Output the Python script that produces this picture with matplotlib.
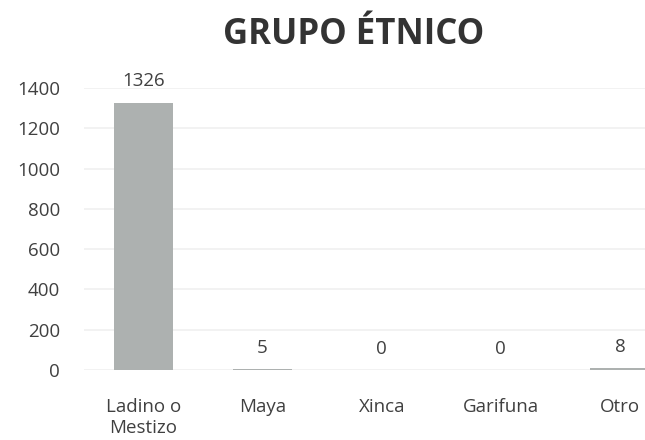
import matplotlib.pyplot as plt
import numpy as np

categories = ['Ladino o\nMestizo', 'Maya', 'Xinca', 'Garifuna', 'Otro']
counts = [1326, 5, 0, 0, 8]
y_ticks = [0, 200, 400, 600, 800, 1000, 1200, 1400]

plt.rcParams['font.family'] = ['Open Sans', 'DejaVu Sans']

fig = plt.figure(figsize=(6.45, 4.4), dpi=100)
ax = fig.add_axes([0.13, 0.159, 0.87, 0.641])

x = np.arange(len(categories))
bars = ax.bar(x, counts, width=0.5, color='#adb1b0', zorder=2)

for xi, v in zip(x, counts):
    ax.annotate(str(v), (xi, v), xytext=(0, 9), textcoords='offset points',
                ha='center', va='bottom', fontsize=13.5, color='#404040')

ax.set_ylim(0, 1400)
ax.set_xlim(-0.5, 4.21)
ax.set_yticks(y_ticks)
ax.yaxis.grid(True, color='#f0f0f0', linewidth=1.2, zorder=0)
ax.set_xticks(x)
ax.set_xticklabels(categories)
ax.tick_params(axis='y', length=0, pad=17, labelsize=13.5, labelcolor='#404040')
ax.tick_params(axis='x', length=0, pad=20, labelsize=13.5, labelcolor='#404040')
for s in ax.spines.values():
    s.set_visible(False)

fig.text(0.548, 0.92, 'GRUPO ÉTNICO', ha='center', va='center',
         fontsize=25, fontweight='bold', color='#333333')

fig.savefig('out.png', dpi=100)
